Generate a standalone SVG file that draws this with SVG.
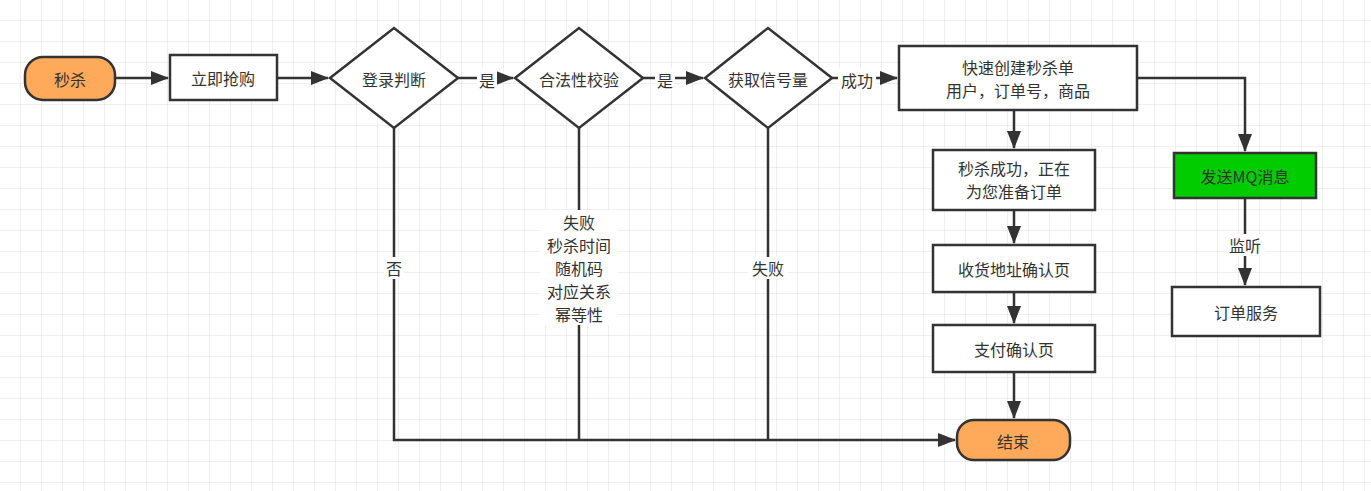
<svg xmlns="http://www.w3.org/2000/svg" width="1371" height="491" viewBox="0 0 1371 491">
<style>
.n{fill:#fff;stroke:#333;stroke-width:2.5}
.o{fill:#FFA95A;stroke:#333;stroke-width:2.5}
.t{font-family:"Noto Sans CJK SC","Liberation Sans",sans-serif;font-size:16px;fill:#333;text-anchor:middle;dominant-baseline:central}
.c{fill:none;stroke:#333;stroke-width:2.5}
.l{font-family:"Noto Sans CJK SC","Liberation Sans",sans-serif;font-size:16px;fill:#333;text-anchor:middle;dominant-baseline:central}
</style>
<defs>
<pattern id="g" width="21" height="21" patternUnits="userSpaceOnUse"><path d="M21 0V21H0" fill="none" stroke="#dedede" stroke-width="1"/></pattern>
<marker id="a" viewBox="0 0 18 14" refX="17" refY="7" markerWidth="18" markerHeight="14" markerUnits="userSpaceOnUse" orient="auto"><path d="M0,0L18,7L0,14z" fill="#333"/></marker>
</defs>
<rect width="1371" height="491" fill="#fff"/>
<rect width="1371" height="491" fill="url(#g)"/>
<g id="connectors">
<path class="c" d="M115,78H168" marker-end="url(#a)"/>
<path class="c" d="M277,78H328" marker-end="url(#a)"/>
<path class="c" d="M458,78H513" marker-end="url(#a)"/>
<path class="c" d="M643,78H703" marker-end="url(#a)"/>
<path class="c" d="M832,78H897" marker-end="url(#a)"/>
<path class="c" d="M1014,110V148" marker-end="url(#a)"/>
<path class="c" d="M1014,210V243" marker-end="url(#a)"/>
<path class="c" d="M1014,292V323" marker-end="url(#a)"/>
<path class="c" d="M1014,372V418" marker-end="url(#a)"/>
<path class="c" d="M1137,78H1245V151" marker-end="url(#a)"/>
<path class="c" d="M1245,198V285" marker-end="url(#a)"/>
<path class="c" d="M394,128V440H955" marker-end="url(#a)"/>
<path class="c" d="M579,128V440"/>
<path class="c" d="M768,128V440"/>
<rect x="477" y="68" width="20" height="22" fill="#fff"/><text class="l" x="487" y="80">是</text>
<rect x="655" y="68" width="20" height="22" fill="#fff"/><text class="l" x="665" y="80">是</text>
<rect x="838" y="68" width="38" height="22" fill="#fff"/><text class="l" x="857" y="80">成功</text>
<rect x="1225" y="234" width="40" height="22" fill="#fff"/><text class="l" x="1245" y="245">监听</text>
<rect x="384" y="257" width="20" height="22" fill="#fff"/><text class="l" x="394" y="268">否</text>
<rect x="748" y="257" width="40" height="22" fill="#fff"/><text class="l" x="768" y="268">失败</text>
<rect x="540" y="210" width="78" height="115" fill="#fff"/>
<text class="l" x="579" y="222">失败</text>
<text class="l" x="579" y="245">秒杀时间</text>
<text class="l" x="579" y="268">随机码</text>
<text class="l" x="579" y="291">对应关系</text>
<text class="l" x="579" y="314">幂等性</text>
</g>
<g id="start"><rect class="o" x="25" y="57" width="90" height="43" rx="18"/><text class="t" x="70" y="79">秒杀</text></g>
<g id="buy"><rect class="n" x="170" y="55" width="107" height="45"/><text class="t" x="223" y="78">立即抢购</text></g>
<g id="login"><path class="n" d="M330,78L394,28L458,78L394,128z"/><text class="t" x="394" y="79">登录判断</text></g>
<g id="valid"><path class="n" d="M515,78L579,28L643,78L579,128z"/><text class="t" x="579" y="79">合法性校验</text></g>
<g id="sem"><path class="n" d="M705,78L768,28L832,78L768,128z"/><text class="t" x="768" y="79">获取信号量</text></g>
<g id="create"><rect class="n" x="899" y="46" width="238" height="64"/><text class="t" x="1018" y="67">快速创建秒杀单</text><text class="t" x="1018" y="90">用户，订单号，商品</text></g>
<g id="success"><rect class="n" x="933" y="150" width="162" height="60"/><text class="t" x="1014" y="168">秒杀成功，正在</text><text class="t" x="1014" y="191">为您准备订单</text></g>
<g id="addr"><rect class="n" x="933" y="245" width="162" height="47"/><text class="t" x="1014" y="269">收货地址确认页</text></g>
<g id="pay"><rect class="n" x="933" y="325" width="162" height="47"/><text class="t" x="1014" y="349">支付确认页</text></g>
<g id="end"><rect class="o" x="957" y="420" width="113" height="40" rx="17"/><text class="t" x="1013" y="441">结束</text></g>
<g id="mq"><rect x="1174" y="153" width="142" height="45" fill="#00CC00" stroke="#333" stroke-width="2.5"/><text class="t" x="1245" y="176">发送MQ消息</text></g>
<g id="order"><rect class="n" x="1172" y="287" width="148" height="49"/><text class="t" x="1246" y="312">订单服务</text></g>
</svg>
